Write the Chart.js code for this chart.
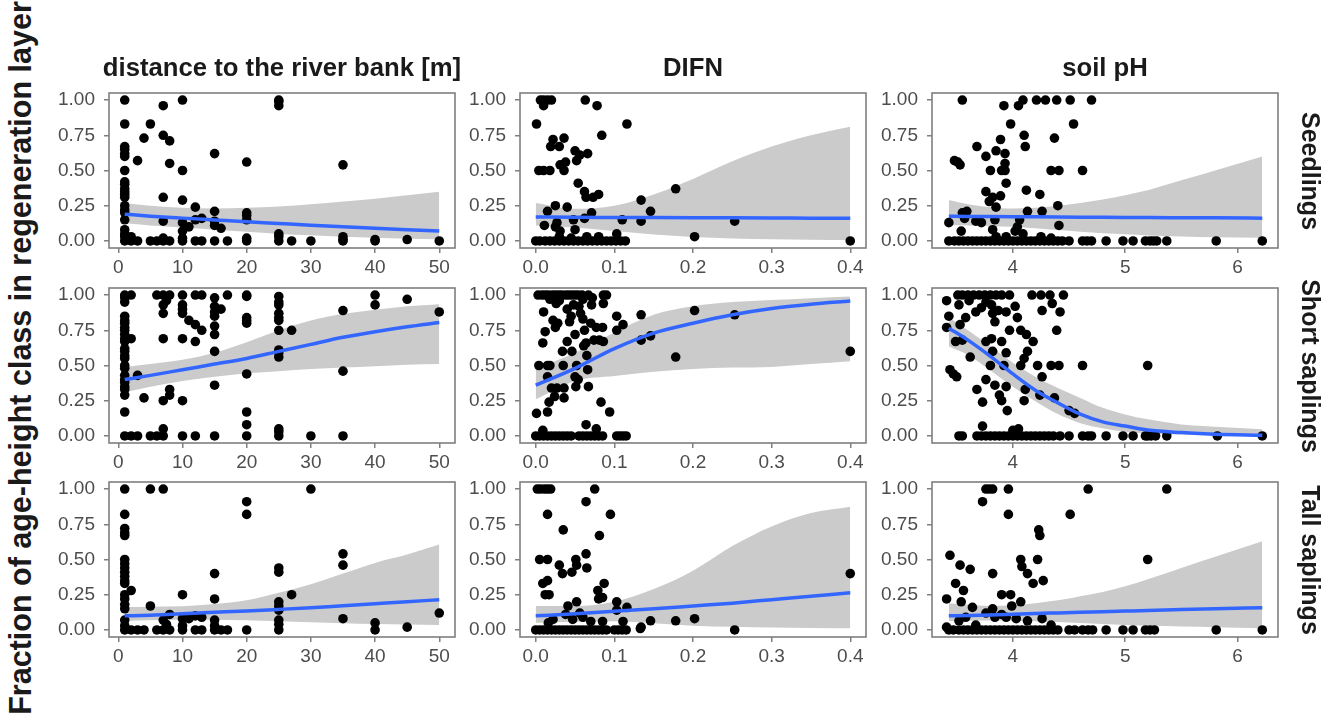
<!DOCTYPE html>
<html>
<head>
<meta charset="utf-8">
<script src="https://cdn.jsdelivr.net/npm/chart.js@4.4.1/dist/chart.umd.min.js"></script>
<style>
body { margin: 0; background: #fff; }
#wrap { position: relative; width: 1336px; height: 714px; overflow: hidden; background: #fff;
        font-family: "Liberation Sans", Arial, sans-serif; color: #1a1a1a; }
#wrap canvas { position: absolute; }
.lbl { position: absolute; font-weight: bold; white-space: nowrap; line-height: 1; transform-origin: center; }
</style>
</head>
<body>
<div id="wrap"></div>
<script>
// facet labels and ticks
const colTitles = ['distance to the river bank [m]', 'DIFN', 'soil pH'];
const rowTitles = ['Seedlings', 'Short saplings', 'Tall saplings'];
const yTitle = 'Fraction of age-height class in regeneration layer';
const yTicks = [0, 0.25, 0.5, 0.75, 1];
const distTicks = [0, 10, 20, 30, 40, 50];
const difnTicks = [0, 0.1, 0.2, 0.3, 0.4];
const phTicks = [4, 5, 6];

// x positions where the fitted curves were read
const distGrid = [1, 5, 10, 15, 20, 25, 30, 35, 40, 45, 50];
const difnGrid = [0, 0.05, 0.1, 0.15, 0.2, 0.25, 0.3, 0.35, 0.4];
const phGrid = [3.43, 3.6, 3.8, 4.0, 4.2, 4.4, 4.6, 4.8, 5.0, 5.2, 5.5, 5.8, 6.22];

// Seedlings
const seedDist = [[1,1],[1,0.83],[1,0.67],[1,0.65],[1,0.62],[1,0.6],[1,0.5],[1,0.42],[1,0.4],[1,0.37],[1,0.35],[1,0.33],[1,0.31],[1,0.25],[1,0.22],[1,0.2],[1,0.15],[1,0.08],[1,0.05],[1,0.03],[1,0],[2,0.03],[2,0],[3,0.57],[3,0],[4,0.73],[5,0.83],[5,0],[6,0],[7,0.96],[7,0.75],[7,0.31],[7,0.14],[7,0.02],[7,0],[8,0.71],[8,0.55],[8,0],[10,1],[10,0.5],[10,0.29],[10,0.13],[10,0.07],[10,0.02],[10,0],[11,0.1],[12,0.24],[12,0.15],[12,0],[13,0.16],[13,0],[15,0.62],[15,0.21],[15,0.14],[15,0.11],[15,0],[16,0.09],[17,0],[20,0.56],[20,0.2],[20,0.18],[20,0.15],[20,0.02],[20,0],[25,1],[25,0.99],[25,0.96],[25,0.05],[25,0.03],[25,0],[27,0],[30,0],[35,0.54],[35,0.03],[35,0.01],[35,0],[40,0.01],[40,0],[45,0.01],[50,0]];
const seedDistFit = [0.19, 0.176, 0.162, 0.149, 0.136, 0.124, 0.112, 0.101, 0.09, 0.08, 0.07];
const seedDistHi = [0.27, 0.25, 0.235, 0.23, 0.235, 0.245, 0.26, 0.28, 0.3, 0.325, 0.35];
const seedDistLo = [0.125, 0.11, 0.095, 0.08, 0.065, 0.05, 0.04, 0.03, 0.022, 0.016, 0.012];

const seedDifn = [[0.001,0.83],[0.006,1],[0.01,1],[0.015,1],[0.02,1],[0.01,0.96],[0.063,1],[0.078,0.96],[0.116,0.83],[0.084,0.75],[0.022,0.72],[0.036,0.73],[0.019,0.67],[0.03,0.67],[0.05,0.64],[0.052,0.57],[0.066,0.62],[0.056,0.61],[0.031,0.54],[0.038,0.56],[0.036,0.5],[0.004,0.5],[0.01,0.5],[0.018,0.5],[0.054,0.41],[0.062,0.35],[0.064,0.31],[0.073,0.31],[0.08,0.33],[0.134,0.29],[0.146,0.21],[0.178,0.37],[0.134,0.14],[0.11,0.15],[0.202,0.03],[0.253,0.14],[0.4,0],[0.015,0.21],[0.025,0.25],[0.04,0.24],[0.071,0.2],[0.062,0.16],[0.011,0.11],[0.027,0.13],[0.048,0.15],[0.05,0.08],[0.031,0.07],[0.103,0.05],[0.025,0.1],[0.03,0.03],[0.065,0.03],[0.08,0.03],[0.045,0.02],[0,0],[0.005,0],[0.012,0],[0.018,0],[0.024,0],[0.03,0],[0.036,0],[0.042,0],[0.048,0],[0.054,0],[0.06,0],[0.066,0],[0.072,0],[0.078,0],[0.084,0],[0.09,0],[0.096,0],[0.102,0],[0.108,0],[0.114,0]];
const seedDifnFit = [0.17, 0.168, 0.167, 0.166, 0.165, 0.164, 0.163, 0.162, 0.161];
const seedDifnHi = [0.27, 0.228, 0.25, 0.33, 0.44, 0.565, 0.67, 0.75, 0.81];
const seedDifnLo = [0.11, 0.095, 0.07, 0.045, 0.028, 0.018, 0.012, 0.009, 0.007];

const seedPh = [[3.55,1],[3.92,0.96],[4.05,0.96],[4.09,1],[4.21,1],[4.29,1],[4.39,1],[4.51,1],[4.7,1],[3.98,0.83],[4.54,0.83],[4.1,0.75],[4.37,0.73],[3.89,0.72],[3.68,0.67],[4.11,0.67],[3.85,0.64],[3.93,0.62],[3.76,0.6],[3.93,0.55],[3.48,0.57],[3.51,0.56],[3.53,0.54],[3.8,0.5],[3.9,0.5],[3.93,0.5],[4.34,0.5],[4.41,0.5],[4.62,0.5],[3.94,0.41],[4.12,0.36],[4.24,0.33],[3.76,0.35],[3.82,0.31],[3.79,0.28],[3.89,0.32],[3.85,0.24],[4.4,0.25],[4.13,0.21],[4.26,0.21],[3.55,0.2],[3.59,0.21],[3.57,0.16],[3.43,0.13],[3.67,0.14],[3.72,0.13],[3.84,0.15],[4.06,0.15],[4.04,0.1],[4.02,0.07],[4.09,0.05],[4.41,0.11],[3.54,0.07],[3.82,0.08],[3.85,0.03],[3.94,0.03],[4.25,0.03],[4.34,0.02],[3.43,0],[3.48,0],[3.52,0],[3.56,0],[3.6,0],[3.64,0],[3.68,0],[3.72,0],[3.76,0],[3.8,0],[3.84,0],[3.88,0],[3.92,0],[3.96,0],[4,0],[4.04,0],[4.08,0],[4.12,0],[4.16,0],[4.2,0],[4.24,0],[4.28,0],[4.32,0],[4.36,0],[4.4,0],[4.44,0],[4.5,0],[4.62,0],[4.66,0],[4.7,0],[4.83,0],[4.98,0],[5.07,0],[5.18,0],[5.22,0],[5.25,0],[5.28,0],[5.37,0],[5.81,0],[6.22,0]];
const seedPhFit = [0.175, 0.174, 0.173, 0.172, 0.171, 0.17, 0.169, 0.168, 0.167, 0.166, 0.165, 0.164, 0.162];
const seedPhHi = [0.29, 0.26, 0.24, 0.23, 0.235, 0.25, 0.27, 0.295, 0.325, 0.36, 0.43, 0.5, 0.6];
const seedPhLo = [0.113, 0.11, 0.107, 0.1, 0.09, 0.077, 0.065, 0.055, 0.047, 0.039, 0.031, 0.026, 0.022];

// Short saplings
const shortDist = [[1,1],[1,0.98],[1,0.95],[1,0.85],[1,0.82],[1,0.8],[1,0.77],[1,0.75],[1,0.72],[1,0.69],[1,0.67],[1,0.62],[1,0.6],[1,0.57],[1,0.55],[1,0.5],[1,0.48],[1,0.43],[1,0.4],[1,0.38],[1,0.35],[1,0.33],[1,0.29],[1,0.17],[1,0],[2,1],[2,0.69],[3,0.43],[4,0.27],[2,0],[3,0],[5,0],[6,1],[6,0],[7,1],[7,0.93],[7,0.87],[7,0.69],[7,0.25],[7,0.05],[7,0],[7.5,0.96],[8,1],[8,0.33],[8,0.29],[10,1],[10,0.93],[10,0.9],[10,0.87],[10,0.69],[10,0.25],[10,0],[11,0.82],[12,1],[12,0.79],[12,0.67],[12,0],[13,1],[13,0.75],[15,0.98],[15,0.92],[15,0.88],[15,0.85],[15,0.78],[15,0.72],[15,0.6],[15,0.36],[15,0],[16,0.9],[17,1],[20,1],[20,0.99],[20,0.84],[20,0.82],[20,0.8],[20,0.44],[20,0.17],[20,0.08],[20,0],[25,0.99],[25,0.95],[25,0.93],[25,0.87],[25,0.84],[25,0.82],[25,0.75],[25,0.61],[25,0.59],[25,0.56],[25,0.05],[25,0.03],[25,0],[27,0.75],[30,0],[35,0.89],[35,0.46],[35,0],[40,1],[40,0.93],[45,0.97],[50,0.88]];
const shortDistFit = [0.4, 0.43, 0.47, 0.51, 0.55, 0.6, 0.65, 0.7, 0.74, 0.775, 0.805];
const shortDistHi = [0.49, 0.51, 0.54, 0.59, 0.665, 0.75, 0.82, 0.865, 0.895, 0.92, 0.935];
const shortDistLo = [0.31, 0.35, 0.39, 0.42, 0.445, 0.46, 0.475, 0.485, 0.495, 0.505, 0.51];

const shortDifn = [[0.003,1],[0.008,1],[0.012,1],[0.016,1],[0.021,1],[0.025,1],[0.029,1],[0.033,1],[0.038,1],[0.042,1],[0.046,1],[0.05,1],[0.054,1],[0.059,1],[0.067,1],[0.086,1],[0.09,1],[0.001,0.16],[0.009,0.66],[0.01,0.88],[0.012,0.74],[0.004,0.5],[0.015,0.5],[0.018,0.5],[0.015,0.42],[0.015,0.17],[0.017,0.24],[0.02,0.34],[0.024,0.28],[0.027,0.34],[0.036,0.34],[0.036,0.27],[0.025,0.77],[0.022,0.82],[0.026,0.94],[0.035,0.5],[0.034,0.6],[0.04,0.67],[0.043,0.81],[0.05,0.72],[0.048,0.93],[0.046,0.6],[0.052,0.5],[0.05,0.42],[0.054,0.4],[0.051,0.35],[0.057,0.87],[0.06,0.83],[0.062,0.75],[0.064,0.66],[0.061,0.64],[0.065,0.57],[0.066,0.47],[0.067,0.35],[0.07,0.8],[0.071,0.93],[0.077,0.77],[0.074,0.68],[0.081,0.68],[0.086,0.67],[0.085,0.77],[0.086,0.94],[0.083,0.24],[0.094,0.17],[0.064,0.08],[0.077,0.05],[0.009,0.04],[0.103,0.85],[0.103,0.75],[0.111,0.79],[0.134,0.86],[0.134,0.68],[0.146,0.71],[0.178,0.56],[0.202,0.89],[0.253,0.86],[0.4,0.6],[0.03,0.96],[0.018,0.97],[0.06,0.97],[0.072,0.98],[0.04,0.9],[0.045,0.85],[0.028,0.8],[0.055,0.92],[0,0],[0.005,0],[0.01,0],[0.015,0],[0.02,0],[0.025,0],[0.03,0],[0.035,0],[0.04,0],[0.045,0],[0.055,0],[0.06,0],[0.065,0],[0.07,0],[0.075,0],[0.08,0],[0.085,0],[0.103,0],[0.107,0],[0.111,0],[0.115,0]];
const shortDifnFit = [0.36, 0.48, 0.62, 0.73, 0.8, 0.86, 0.905, 0.935, 0.957];
const shortDifnHi = [0.475, 0.59, 0.735, 0.86, 0.92, 0.95, 0.965, 0.978, 0.99];
const shortDifnLo = [0.26, 0.39, 0.425, 0.455, 0.475, 0.485, 0.49, 0.51, 0.53];

const shortPh = [[3.41,0.77],[3.43,0.85],[3.41,0.96],[3.51,1],[3.55,1],[3.6,1],[3.65,1],[3.7,1],[3.75,1],[3.8,1],[3.85,1],[3.9,1],[3.97,1],[4.17,1],[4.25,1],[4.33,1],[4.45,1],[3.44,0.47],[3.47,0.44],[3.5,0.42],[3.49,0.67],[3.55,0.68],[3.53,0.79],[3.58,0.84],[3.52,0.93],[3.61,0.96],[3.67,0.88],[3.72,0.91],[3.81,0.93],[3.84,0.81],[3.87,0.89],[3.76,0.95],[3.82,0.87],[3.62,0.56],[3.68,0.33],[3.76,0.4],[3.73,0.24],[3.73,0.07],[3.76,0.67],[3.81,0.69],[3.9,0.67],[3.82,0.6],[3.8,0.5],[3.84,0.36],[3.88,0.29],[3.9,0.25],[3.94,0.35],[3.94,0.59],[3.92,0.5],[3.95,0.18],[3.97,0.75],[3.94,0.88],[4.02,0.92],[4.04,0.84],[4.07,0.75],[4.12,0.72],[4.18,0.67],[4.13,0.6],[4.1,0.55],[4.07,0.5],[4.11,0.33],[4.1,0.25],[4.22,0.5],[4.24,0.29],[4.26,0.42],[4.26,0.89],[4.35,0.94],[4.42,0.88],[4.39,0.75],[4.34,0.5],[4.41,0.5],[4.37,0.27],[4.5,0.18],[4.55,0.16],[4.62,0.5],[5.2,0.5],[4,0.04],[4.05,0.05],[3.52,0],[3.55,0],[3.68,0],[3.72,0],[3.76,0],[3.8,0],[3.84,0],[3.88,0],[3.92,0],[3.96,0],[4,0],[4.04,0],[4.08,0],[4.12,0],[4.16,0],[4.2,0],[4.24,0],[4.28,0],[4.32,0],[4.36,0],[4.42,0],[4.5,0],[4.62,0],[4.67,0],[4.7,0],[4.83,0],[4.98,0],[5.07,0],[5.18,0],[5.2,0],[5.23,0],[5.27,0],[5.37,0],[5.82,0],[6.22,0]];
const shortPhFit = [0.765, 0.68, 0.565, 0.44, 0.325, 0.235, 0.155, 0.1, 0.07, 0.042, 0.024, 0.012, 0.005];
const shortPhHi = [0.84, 0.75, 0.635, 0.52, 0.42, 0.34, 0.27, 0.2, 0.153, 0.118, 0.082, 0.066, 0.047];
const shortPhLo = [0.635, 0.575, 0.465, 0.35, 0.247, 0.155, 0.09, 0.054, 0.03, 0.018, 0.01, 0.005, 0.002];

// Tall saplings
const tallDist = [[1,1],[1,0.82],[1,0.72],[1,0.69],[1,0.67],[1,0.5],[1,0.47],[1,0.44],[1,0.41],[1,0.38],[1,0.35],[1,0.33],[1,0.25],[1,0.22],[1,0.18],[1,0.15],[1,0.07],[1,0.03],[1,0],[2,0.28],[2,0],[3,0],[4,0],[5,1],[5,0.17],[6,0],[7,1],[7,0.07],[7,0],[7.5,0.04],[8,0.11],[8,0],[10,0.25],[10,0.08],[10,0.03],[10,0],[11,0.08],[12,0.1],[12,0],[13,0.09],[13,0],[15,0.4],[15,0.22],[15,0.07],[15,0.03],[15,0],[16,0],[17,0],[20,0.91],[20,0.82],[20,0],[25,0.44],[25,0.41],[25,0.2],[25,0.17],[25,0.14],[25,0.07],[25,0.04],[25,0],[27,0.25],[30,1],[35,0.54],[35,0.46],[35,0.08],[40,0.05],[40,0],[45,0.02],[50,0.12]];
const tallDistFit = [0.1, 0.105, 0.115, 0.125, 0.135, 0.146, 0.158, 0.172, 0.186, 0.2, 0.215];
const tallDistHi = [0.163, 0.165, 0.168, 0.184, 0.21, 0.264, 0.325, 0.4, 0.476, 0.535, 0.606];
const tallDistLo = [0.064, 0.068, 0.072, 0.072, 0.068, 0.062, 0.055, 0.048, 0.042, 0.038, 0.035];

const tallDifn = [[0.002,1],[0.006,1],[0.011,1],[0.015,1],[0.019,1],[0.075,1],[0.015,0.82],[0.064,0.91],[0.095,0.82],[0.035,0.71],[0.081,0.67],[0.005,0.5],[0.015,0.5],[0.051,0.5],[0.064,0.54],[0.052,0.46],[0.065,0.44],[0.03,0.46],[0.034,0.4],[0.046,0.41],[0.009,0.33],[0.015,0.35],[0.017,0.25],[0.012,0.25],[0.087,0.33],[0.079,0.28],[0.08,0.22],[0.085,0.23],[0.103,0.2],[0.103,0.14],[0.116,0.16],[0.052,0.2],[0.041,0.17],[0.038,0.11],[0.056,0.12],[0.06,0.09],[0.047,0.075],[0.022,0.075],[0.016,0.05],[0.07,0.06],[0.085,0.06],[0.111,0.06],[0.146,0.065],[0.134,0.02],[0.178,0.065],[0.202,0.08],[0.253,0],[0.4,0.4],[0,0],[0.005,0],[0.01,0],[0.015,0],[0.02,0],[0.025,0],[0.03,0],[0.035,0],[0.04,0],[0.045,0],[0.05,0],[0.055,0],[0.06,0],[0.065,0],[0.07,0],[0.075,0],[0.08,0],[0.085,0],[0.09,0],[0.1,0],[0.105,0],[0.11,0],[0.115,0],[0.133,0.01]];
const tallDifnFit = [0.1, 0.115, 0.132, 0.15, 0.17, 0.19, 0.215, 0.24, 0.264];
const tallDifnHi = [0.17, 0.17, 0.2, 0.29, 0.42, 0.595, 0.735, 0.83, 0.875];
const tallDifnLo = [0.052, 0.058, 0.062, 0.048, 0.03, 0.022, 0.017, 0.014, 0.012];

const tallPh = [[3.73,0.91],[3.76,1],[3.79,1],[3.82,1],[3.96,1],[4.67,1],[5.37,1],[3.96,0.82],[4.51,0.82],[4.23,0.71],[4.24,0.67],[3.44,0.53],[3.53,0.46],[3.62,0.43],[3.82,0.4],[4.07,0.5],[4.08,0.45],[4.13,0.4],[4.22,0.5],[4.18,0.33],[4.27,0.35],[5.2,0.5],[3.41,0.22],[3.49,0.33],[3.56,0.28],[3.54,0.2],[3.64,0.16],[3.9,0.25],[3.98,0.25],[3.99,0.17],[4.07,0.2],[3.9,0.11],[3.76,0.12],[3.82,0.15],[3.84,0.09],[4.03,0.08],[4.13,0.065],[4.26,0.08],[3.58,0.09],[3.52,0.065],[3.94,0.09],[3.41,0.02],[3.67,0.035],[4.34,0.035],[3.43,0],[3.47,0],[3.52,0],[3.56,0],[3.6,0],[3.64,0],[3.68,0],[3.72,0],[3.76,0],[3.8,0],[3.84,0],[3.88,0],[3.92,0],[3.96,0],[4,0],[4.04,0],[4.08,0],[4.12,0],[4.16,0],[4.2,0],[4.24,0],[4.28,0],[4.32,0],[4.36,0],[4.4,0],[4.5,0],[4.55,0],[4.62,0],[4.67,0],[4.71,0],[4.83,0],[4.98,0],[5.07,0],[5.18,0],[5.22,0],[5.26,0],[5.81,0],[6.22,0]];
const tallPhFit = [0.1, 0.103, 0.107, 0.112, 0.117, 0.121, 0.125, 0.13, 0.134, 0.138, 0.145, 0.151, 0.158];
const tallPhHi = [0.19, 0.18, 0.17, 0.175, 0.19, 0.21, 0.24, 0.27, 0.31, 0.36, 0.44, 0.52, 0.63];
const tallPhLo = [0.064, 0.066, 0.067, 0.066, 0.062, 0.056, 0.05, 0.043, 0.036, 0.031, 0.025, 0.02, 0.012];

// geometry of the facet grid (pixels)
const colLeft = [109, 520, 932];
const rowTop = [93, 288, 482];
const panelW = 346, panelH = 155;
const AXW = 70, AXH = 34, PADT = 22, PADR = 6;
const FONT = '"Liberation Sans", Arial, sans-serif';

class FacetCharter {
    constructor(wrap) {
        this.wrap = wrap;
        this.charts = [];
        //NOTE: rows = Seedlings | Short saplings | Tall saplings, cols = distance | DIFN | pH
        this.panels = [
            [ [seedDist, seedDistFit, seedDistHi, seedDistLo], [seedDifn, seedDifnFit, seedDifnHi, seedDifnLo], [seedPh, seedPhFit, seedPhHi, seedPhLo] ],
            [ [shortDist, shortDistFit, shortDistHi, shortDistLo], [shortDifn, shortDifnFit, shortDifnHi, shortDifnLo], [shortPh, shortPhFit, shortPhHi, shortPhLo] ],
            [ [tallDist, tallDistFit, tallDistHi, tallDistLo], [tallDifn, tallDifnFit, tallDifnHi, tallDifnLo], [tallPh, tallPhFit, tallPhHi, tallPhLo] ]
        ];
        this.cols = [
            { grid: distGrid, ticks: distTicks, min: -1.45, max: 52.45, dec: 0 },
            { grid: difnGrid, ticks: difnTicks, min: -0.02, max: 0.42, dec: 1 },
            { grid: phGrid, ticks: phTicks, min: 3.28, max: 6.36, dec: 0 }
        ];
        this.border = {
            id: 'panelBorder',
            afterDatasetsDraw(chart) {
                const a = chart.chartArea, ctx = chart.ctx;
                ctx.save();
                ctx.strokeStyle = '#7f7f7f';
                ctx.lineWidth = 1.6;
                ctx.strokeRect(a.left, a.top, a.right - a.left, a.bottom - a.top);
                ctx.restore();
            }
        };
    }
    curve(grid, vals) {
        return grid.map((x, i) => ({ x: x, y: vals[i] }));
    }
    addLabel(text, x, y, size, rot) {
        const d = document.createElement('div');
        d.className = 'lbl';
        d.textContent = text;
        d.style.fontSize = size + 'px';
        d.style.left = x + 'px';
        d.style.top = y + 'px';
        d.style.transform = 'translate(-50%,-50%) rotate(' + rot + 'deg)';
        this.wrap.appendChild(d);
    }
    makePanel(r, c) {
        const col = this.cols[c];
        const [pts, fit, hi, lo] = this.panels[r][c];
        const cv = document.createElement('canvas');
        cv.width = panelW + AXW + PADR;
        cv.height = panelH + PADT + AXH;
        cv.style.left = (colLeft[c] - AXW) + 'px';
        cv.style.top = (rowTop[r] - PADT) + 'px';
        this.wrap.appendChild(cv);
        const tickFont = { family: FONT, size: 19 };
        const line = { showLine: true, pointRadius: 0, cubicInterpolationMode: 'monotone' };
        this.charts.push(new Chart(cv, {
            type: 'scatter',
            data: {
                datasets: [
                    Object.assign({ data: this.curve(col.grid, lo), borderColor: 'rgba(0,0,0,0)', fill: false, order: 3 }, line),
                    Object.assign({ data: this.curve(col.grid, hi), borderColor: 'rgba(0,0,0,0)', fill: '-1', backgroundColor: '#cbcbcb', order: 2 }, line),
                    { data: pts.map(p => ({ x: p[0], y: p[1] })), pointRadius: 4.8, backgroundColor: '#000', borderWidth: 0, order: 1 },
                    Object.assign({ data: this.curve(col.grid, fit), borderColor: '#3366ff', borderWidth: 3.5, fill: false, order: 0 }, line)
                ]
            },
            options: {
                responsive: false,
                animation: false,
                events: [],
                layout: { padding: { left: 0, top: PADT, right: PADR, bottom: 0 } },
                plugins: { legend: { display: false }, tooltip: { enabled: false } },
                scales: {
                    x: {
                        type: 'linear', min: col.min, max: col.max,
                        afterBuildTicks: s => { s.ticks = col.ticks.map(v => ({ value: v })); },
                        afterFit: s => { s.height = AXH; },
                        grid: { drawOnChartArea: false, tickLength: 5, color: '#7f7f7f', lineWidth: 1.5 },
                        border: { display: false },
                        ticks: { autoSkip: false, maxRotation: 0, padding: 3, color: '#4d4d4d', font: tickFont,
                                 callback: v => Number(v).toFixed(col.dec) }
                    },
                    y: {
                        type: 'linear', min: -0.05, max: 1.05,
                        afterBuildTicks: s => { s.ticks = yTicks.map(v => ({ value: v })); },
                        afterFit: s => { s.width = AXW; },
                        grid: { drawOnChartArea: false, tickLength: 5, color: '#7f7f7f', lineWidth: 1.5 },
                        border: { display: false },
                        ticks: { autoSkip: false, padding: 9, color: '#4d4d4d', font: tickFont,
                                 callback: v => Number(v).toFixed(2) }
                    }
                }
            },
            plugins: [this.border]
        }));
    }
    setup() {
        for (let r = 0; r < 3; r++) {
            for (let c = 0; c < 3; c++) { this.makePanel(r, c); }
        }
        //Facet strips and axis title
        for (let c = 0; c < 3; c++) { this.addLabel(colTitles[c], colLeft[c] + panelW / 2, 68, 25.7, 0); }
        for (let r = 0; r < 3; r++) { this.addLabel(rowTitles[r], 1310, rowTop[r] + panelH / 2, 25, 90); }
        this.addLabel(yTitle, 20, 358, 30.5, -90);
    }
}

new FacetCharter(document.getElementById('wrap')).setup();
</script>
</body>
</html>
